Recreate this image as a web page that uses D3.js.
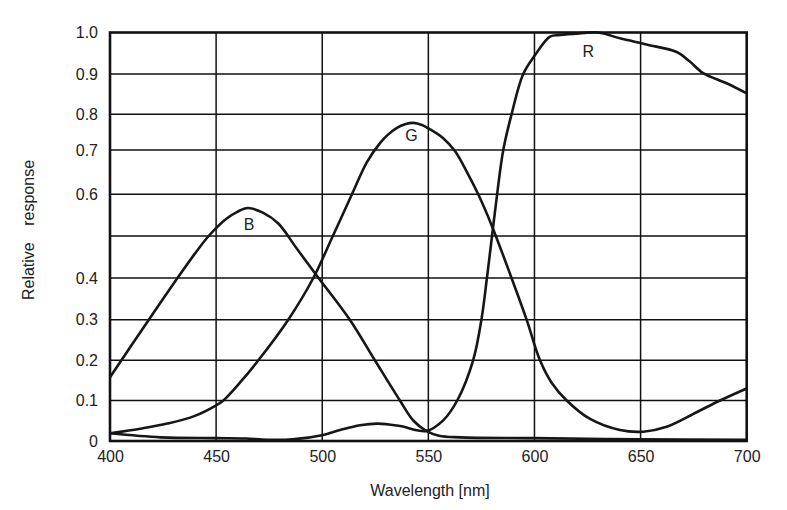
<!DOCTYPE html>
<html>
<head>
<meta charset="utf-8">
<script src="https://cdn.jsdelivr.net/npm/d3@7"></script>
<style>
  body { margin: 0; background: #fff; }
  text { font-family: "Liberation Sans", Arial, sans-serif; fill: #222; }
</style>
</head>
<body>
<script>
// Data
const wavelengthTicks = [400, 450, 500, 550, 600, 650, 700];
const responseTicks = [0, 0.1, 0.2, 0.3, 0.4, 0.6, 0.7, 0.8, 0.9, 1.0];
const gridLevels = [0, 0.1, 0.2, 0.3, 0.4, 0.5, 0.6, 0.7, 0.8, 0.9, 1.0];

const blueCurve = [
  [400, 0.158], [418.3, 0.3], [431.8, 0.4], [440, 0.458], [447, 0.503], [455, 0.542],
  [460, 0.558], [465, 0.567], [472, 0.556], [479.3, 0.53], [488, 0.47], [498, 0.402],
  [513, 0.3], [524.8, 0.2], [536.6, 0.1], [543, 0.05], [549, 0.025], [555, 0.013],
  [565, 0.009], [600, 0.007], [650, 0.004], [700, 0.003]
];

const greenCurve = [
  [400, 0.019], [415, 0.031], [427, 0.043], [440, 0.062], [450, 0.088], [453.4, 0.1],
  [461, 0.143], [469.9, 0.2], [484, 0.3], [495.8, 0.4], [505, 0.5], [514, 0.6],
  [521, 0.672], [527.3, 0.72], [531, 0.743], [535.2, 0.762], [539, 0.772], [543, 0.776],
  [547, 0.77], [549.3, 0.763], [557, 0.733], [562.6, 0.697], [568, 0.652], [573.5, 0.6],
  [579.8, 0.526], [589.2, 0.4], [596.3, 0.3], [602.6, 0.2], [608, 0.145], [615.2, 0.1],
  [626, 0.055], [640.3, 0.027], [651.3, 0.023], [662.3, 0.035], [676.4, 0.071],
  [687.4, 0.1], [700, 0.13]
];

const redCurve = [
  [400, 0.019], [424, 0.009], [450, 0.007], [464, 0.006], [474, 0.003], [486, 0.004],
  [500.5, 0.015], [508.4, 0.027], [517.8, 0.039], [526.4, 0.043], [536.6, 0.037],
  [549.2, 0.025], [557, 0.051], [563.6, 0.1], [571.1, 0.2], [575, 0.3], [577.6, 0.4],
  [580, 0.5], [582.4, 0.6], [585.3, 0.7], [589.2, 0.8], [594.7, 0.9], [600.2, 0.945],
  [607.3, 0.99], [612, 0.994], [621, 0.998], [630, 1.0], [640.3, 0.986], [652.8, 0.971],
  [667, 0.953], [673.2, 0.93], [679.5, 0.902], [690.5, 0.877], [700, 0.852]
];

const curveLabels = [
  { name: "B", wl: 465.5, val: 0.515 },
  { name: "G", wl: 542, val: 0.725 },
  { name: "R", wl: 625.3, val: 0.94 }
];

// Layout
const width = 787, height = 510;
const plotLeft = 110, plotRight = 746.7, plotBottom = 441, plotTop = 32.5;

const svg = d3.select("body").append("svg")
    .attr("width", width)
    .attr("height", height);

const x = d3.scaleLinear().domain([400, 700]).range([plotLeft, plotRight]);
// the source chart's grid is slightly uneven, so the scale is piecewise
const y = d3.scaleLinear()
    .domain(gridLevels)
    .range([441, 400.5, 360.3, 319.7, 278, 236, 194.3, 150, 114.3, 74, 32.5]);

// grid
svg.append("g")
    .selectAll("line")
    .data(gridLevels.slice(1, -1))
    .enter().append("line")
    .attr("x1", plotLeft).attr("x2", plotRight)
    .attr("y1", d => y(d)).attr("y2", d => y(d))
    .attr("stroke", "#111").attr("stroke-width", 1.5);

svg.append("g")
    .selectAll("line")
    .data(wavelengthTicks.slice(1, -1))
    .enter().append("line")
    .attr("x1", d => x(d)).attr("x2", d => x(d))
    .attr("y1", plotTop).attr("y2", plotBottom)
    .attr("stroke", "#111").attr("stroke-width", 1.5);

// axes (labels only)
const xAxis = svg.append("g")
    .attr("transform", `translate(0,${plotBottom})`)
    .call(d3.axisBottom(x).tickValues(wavelengthTicks).tickSize(0).tickPadding(10));
xAxis.select(".domain").remove();

const yAxis = svg.append("g")
    .attr("transform", `translate(${plotLeft},0)`)
    .call(d3.axisLeft(y).tickValues(responseTicks).tickSize(0).tickPadding(12)
        .tickFormat(d => d === 0 ? "0" : d.toFixed(1)));
yAxis.select(".domain").remove();

svg.selectAll(".tick text")
    .style("font-size", "16px")
    .style("font-family", "'Liberation Sans', Arial, sans-serif")
    .attr("fill", "#222");

// curves
const line = d3.line()
    .x(d => x(d[0]))
    .y(d => y(d[1]))
    .curve(d3.curveCatmullRom.alpha(0.5));

[blueCurve, greenCurve, redCurve].forEach(c => {
    svg.append("path")
        .datum(c)
        .attr("d", line)
        .attr("fill", "none")
        .attr("stroke", "#161616")
        .attr("stroke-width", 2.6)
        .attr("stroke-linejoin", "round");
});

// frame
svg.append("rect")
    .attr("x", plotLeft).attr("y", plotTop)
    .attr("width", plotRight - plotLeft).attr("height", plotBottom - plotTop)
    .attr("fill", "none")
    .attr("stroke", "#111")
    .attr("stroke-width", 2.6);

// curve labels
svg.selectAll("text.lbl")
    .data(curveLabels)
    .enter().append("text")
    .attr("class", "lbl")
    .attr("x", d => x(d.wl))
    .attr("y", d => y(d.val))
    .attr("text-anchor", "middle")
    .style("font-size", "16px")
    .text(d => d.name);

// axis titles
svg.append("text")
    .attr("x", 430)
    .attr("y", 496)
    .attr("text-anchor", "middle")
    .style("font-size", "16px")
    .text("Wavelength [nm]");

svg.append("text")
    .attr("transform", "translate(34,230) rotate(-90)")
    .attr("text-anchor", "middle")
    .style("font-size", "16px")
    .style("word-spacing", "12px")
    .text("Relative response");
</script>
</body>
</html>
